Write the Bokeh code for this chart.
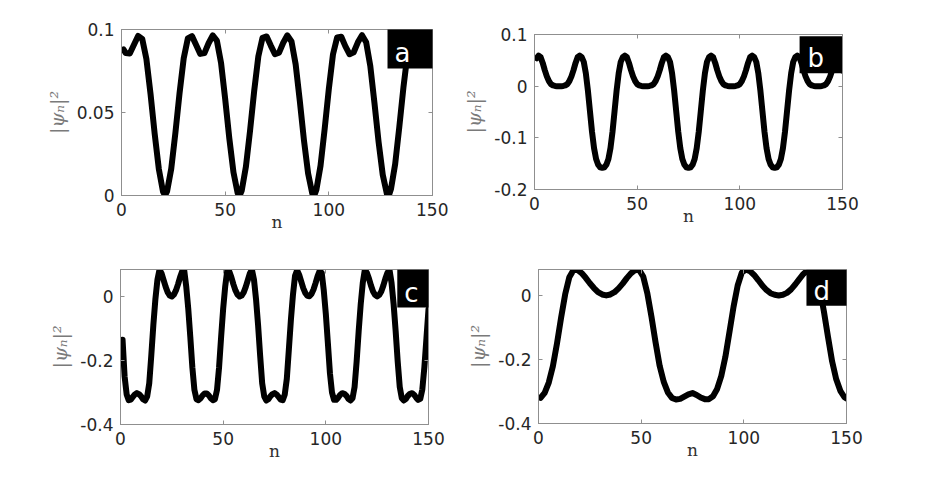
from bokeh.plotting import figure
from bokeh.layouts import column, row
from bokeh.models import Range1d, FixedTicker, LinearAxis, Label
from bokeh.embed import file_html
from bokeh.resources import INLINE

# ---------------- data ----------------
x_ticks = [0, 50, 100, 150]
x_tick_labels = ["0", "50", "100", "150"]

# panel a
n_a = [1, 2, 4, 6, 8, 10, 12, 14, 16, 18, 20, 21, 22, 24, 26, 28, 30, 32, 34, 36, 38,
       40, 42, 44, 46, 48, 50, 52, 54, 56, 57, 58, 60, 62, 64, 66, 68, 70, 72, 74, 76,
       78, 80, 82, 84, 86, 88, 90, 92, 93, 94, 96, 98, 100, 102, 104, 106, 108, 110,
       112, 114, 116, 118, 120, 122, 124, 126, 128, 129, 130, 132, 134, 136, 138, 140,
       142, 144, 146, 148, 150]
psi_a = [0.0880, 0.0858, 0.0855, 0.0908, 0.0961, 0.0943, 0.0823, 0.0612, 0.0372, 0.0160,
         0.0024, 0.0000, 0.0026, 0.0162, 0.0378, 0.0617, 0.0826, 0.0946, 0.0960, 0.0907,
         0.0853, 0.0858, 0.0917, 0.0964, 0.0933, 0.0800, 0.0582, 0.0344, 0.0140, 0.0015,
         0.0000, 0.0030, 0.0173, 0.0390, 0.0630, 0.0838, 0.0950, 0.0958, 0.0903, 0.0852,
         0.0861, 0.0920, 0.0965, 0.0928, 0.0790, 0.0570, 0.0333, 0.0133, 0.0012, 0.0001,
         0.0035, 0.0180, 0.0402, 0.0642, 0.0850, 0.0952, 0.0956, 0.0898, 0.0851, 0.0863,
         0.0923, 0.0966, 0.0923, 0.0780, 0.0558, 0.0322, 0.0125, 0.0010, 0.0002, 0.0040,
         0.0190, 0.0414, 0.0654, 0.0858, 0.0953, 0.0954, 0.0893, 0.0850, 0.0866, 0.0926]
yticks_a = [0, 0.05, 0.1]
ylabels_a = ["0", "0.05", "0.1"]

# panel b
n_b = list(range(1, 151))
psi_b = [0.054, 0.059, 0.056, 0.045, 0.031, 0.019, 0.010, 0.004, 0.0015, 0.0005,
         0.0, 0.0, 0.0, 0.0005, 0.0015, 0.004, 0.010, 0.019, 0.031, 0.045,
         0.056, 0.059, 0.056, 0.047, 0.025, -0.008, -0.048, -0.088, -0.120, -0.141,
         -0.152, -0.157, -0.158, -0.157, -0.152, -0.141, -0.120, -0.088, -0.048, -0.008,
         0.025, 0.047, 0.056, 0.059, 0.056, 0.045, 0.031, 0.019, 0.010, 0.004,
         0.0015, 0.0005, 0.0, 0.0, 0.0, 0.0005, 0.0015, 0.004, 0.010, 0.019,
         0.031, 0.045, 0.056, 0.059, 0.056, 0.047, 0.025, -0.008, -0.048, -0.088,
         -0.120, -0.141, -0.152, -0.157, -0.158, -0.157, -0.152, -0.141, -0.120, -0.088,
         -0.048, -0.008, 0.025, 0.047, 0.056, 0.059, 0.056, 0.045, 0.031, 0.019,
         0.010, 0.004, 0.0015, 0.0005, 0.0, 0.0, 0.0, 0.0005, 0.0015, 0.004,
         0.010, 0.019, 0.031, 0.045, 0.056, 0.059, 0.056, 0.047, 0.025, -0.008,
         -0.048, -0.088, -0.120, -0.141, -0.152, -0.157, -0.158, -0.157, -0.152, -0.141,
         -0.120, -0.088, -0.048, -0.008, 0.025, 0.047, 0.056, 0.059, 0.056, 0.045,
         0.031, 0.019, 0.010, 0.004, 0.0015, 0.0005, 0.0, 0.0, 0.0, 0.0005,
         0.0015, 0.004, 0.010, 0.019, 0.031, 0.045, 0.056, 0.059, 0.050, 0.030]
yticks_b = [-0.2, -0.1, 0, 0.1]
ylabels_b = ["-0.2", "-0.1", "0", "0.1"]

# panel c
n_c = list(range(1, 151))
psi_c = [-0.135, -0.250, -0.306, -0.324, -0.322, -0.314, -0.306, -0.302, -0.305, -0.312,
         -0.321, -0.325, -0.312, -0.271, -0.184, -0.089, -0.008, 0.053, 0.084, 0.072,
         0.051, 0.030, 0.013, 0.003, 0.000, 0.006, 0.019, 0.038, 0.060, 0.078,
         0.083, 0.032, -0.038, -0.127, -0.222, -0.292, -0.321, -0.324, -0.318, -0.309,
         -0.303, -0.303, -0.309, -0.318, -0.324, -0.321, -0.292, -0.222, -0.127, -0.038,
         0.032, 0.082, 0.078, 0.060, 0.038, 0.019, 0.006, 0.000, 0.003, 0.013,
         0.030, 0.051, 0.072, 0.084, 0.053, -0.008, -0.089, -0.184, -0.271, -0.312,
         -0.325, -0.321, -0.312, -0.305, -0.302, -0.306, -0.314, -0.322, -0.324, -0.306,
         -0.257, -0.165, -0.072, 0.006, 0.065, 0.082, 0.068, 0.047, 0.026, 0.011,
         0.002, 0.001, 0.008, 0.022, 0.042, 0.064, 0.080, 0.074, 0.019, -0.055,
         -0.146, -0.240, -0.300, -0.323, -0.323, -0.316, -0.307, -0.302, -0.304, -0.310,
         -0.320, -0.325, -0.318, -0.283, -0.203, -0.108, -0.023, 0.043, 0.084, 0.074,
         0.056, 0.034, 0.016, 0.005, 0.000, 0.005, 0.016, 0.034, 0.056, 0.074,
         0.084, 0.043, -0.023, -0.108, -0.203, -0.283, -0.318, -0.325, -0.320, -0.310,
         -0.304, -0.302, -0.307, -0.316, -0.323, -0.320, -0.290, -0.220, -0.130, -0.040]
yticks_c = [-0.4, -0.2, 0]
ylabels_c = ["-0.4", "-0.2", "0"]

# panel d
n_d = [1, 3, 5, 7, 9, 11, 13, 15, 17, 19, 21, 23, 25, 27, 29, 31, 33, 35, 37, 39, 41,
       43, 45, 47, 49, 51, 53, 55, 57, 59, 61, 63, 65, 67, 69, 71, 73, 75, 77, 79, 81,
       83, 85, 87, 89, 91, 93, 95, 97, 99, 101, 103, 105, 107, 109, 111, 113, 115, 117,
       119, 121, 123, 125, 127, 129, 131, 133, 135, 137, 139, 141, 143, 145, 147, 149, 150]
psi_d = [-0.320, -0.304, -0.272, -0.221, -0.150, -0.070, 0.004, 0.057, 0.079, 0.080,
         0.070, 0.055, 0.038, 0.023, 0.010, 0.003, 0.000, 0.003, 0.010, 0.022,
         0.037, 0.054, 0.069, 0.079, 0.080, 0.059, 0.007, -0.066, -0.146, -0.220,
         -0.270, -0.303, -0.320, -0.325, -0.323, -0.316, -0.309, -0.305, -0.311, -0.319,
         -0.324, -0.324, -0.315, -0.292, -0.252, -0.192, -0.114, -0.035, 0.031, 0.071,
         0.081, 0.076, 0.064, 0.048, 0.031, 0.017, 0.007, 0.002, 0.000, 0.002,
         0.008, 0.019, 0.034, 0.051, 0.067, 0.078, 0.081, 0.066, 0.020, -0.050,
         -0.130, -0.206, -0.262, -0.298, -0.318, -0.322]
yticks_d = [-0.4, -0.2, 0]
ylabels_d = ["-0.4", "-0.2", "0"]

# ---------------- styling ----------------
AX_COLOR = "#8f8f8f"
TICK_TXT = "#262626"
TICK_FONT = "DejaVu Sans"
SERIF = "DejaVu Serif"


def style_axis(ax, ticks, labels, show_labels=True):
    ax.ticker = FixedTicker(ticks=ticks)
    ax.axis_line_color = AX_COLOR
    ax.axis_line_width = 1
    ax.major_tick_line_color = AX_COLOR
    ax.major_tick_in = 4
    ax.major_tick_out = 0
    ax.minor_tick_line_color = None
    if show_labels:
        ax.major_label_overrides = {t: s for t, s in zip(ticks, labels)}
        ax.major_label_text_font = TICK_FONT
        ax.major_label_text_font_size = "17px"
        ax.major_label_text_color = TICK_TXT
        ax.major_label_standoff = 7
    else:
        ax.major_label_text_color = None
        ax.major_label_text_font_size = "1px"
        ax.major_label_standoff = 0


def panel(n, y, ylim, yt, yl, tag, tag_x, tag_y, pad, W, H, bl, br, bt, bb):
    p = figure(width=W, height=H, x_range=Range1d(0, 150), y_range=Range1d(*ylim),
               output_backend="svg", toolbar_location=None,
               min_border_left=bl, min_border_right=br,
               min_border_top=bt, min_border_bottom=bb)
    p.grid.visible = False
    p.outline_line_color = AX_COLOR
    p.background_fill_color = "white"
    p.border_fill_color = "white"

    p.line(n, y, line_width=6, line_color="black", line_join="round", line_cap="round")

    bottom = p.xaxis[0]
    left = p.yaxis[0]
    style_axis(bottom, x_ticks, x_tick_labels)
    style_axis(left, yt, yl)

    top = LinearAxis()
    style_axis(top, x_ticks, x_tick_labels, show_labels=False)
    p.add_layout(top, "above")
    right = LinearAxis()
    style_axis(right, yt, yl, show_labels=False)
    p.add_layout(right, "right")

    bottom.axis_label = "n"
    bottom.axis_label_text_font = SERIF
    bottom.axis_label_text_font_style = "normal"
    bottom.axis_label_text_font_size = "17px"
    bottom.axis_label_text_color = "#303030"
    bottom.axis_label_standoff = -7

    left.axis_label = "|ψₙ|²"
    left.axis_label_text_font = SERIF
    left.axis_label_text_font_style = "italic"
    left.axis_label_text_font_size = "19px"
    left.axis_label_text_color = "#7a7a7a"
    left.axis_label_standoff = 6

    lab = Label(x=tag_x, y=tag_y, text=tag, text_color="white",
                text_font=TICK_FONT, text_font_size="26px",
                anchor="top_left",
                background_fill_color="black", background_fill_alpha=1.0,
                padding=pad)
    p.add_layout(lab)
    return p


pa = panel(n_a, psi_a, (0, 0.1), yticks_a, ylabels_a, "a", 128.3, 0.1006,
           dict(left=7, right=23, top=9, bottom=1), 448, 250, 121, 16, 29, 55)
pb = panel(n_b, psi_b, (-0.2, 0.1), yticks_b, ylabels_b, "b", 129.1, 0.0968,
           dict(left=8, right=18, top=7, bottom=0), 434, 250, 86, 40, 34, 61)
pc = panel(n_c, psi_c, (-0.4, 0.0844), yticks_c, ylabels_c, "c", 134.8, 0.0844,
           dict(left=7, right=11, top=8, bottom=0), 448, 240, 120, 20, 19, 66)
pd = panel(n_d, psi_d, (-0.4, 0.081), yticks_d, ylabels_d, "d", 130.5, 0.0800,
           dict(left=7, right=18, top=6, bottom=0), 438, 240, 90, 40, 19, 67)

layout = column(row(column(pa), column(pb)), row(column(pc), column(pd)))

open("out.html", "w").write(file_html(layout, INLINE))
